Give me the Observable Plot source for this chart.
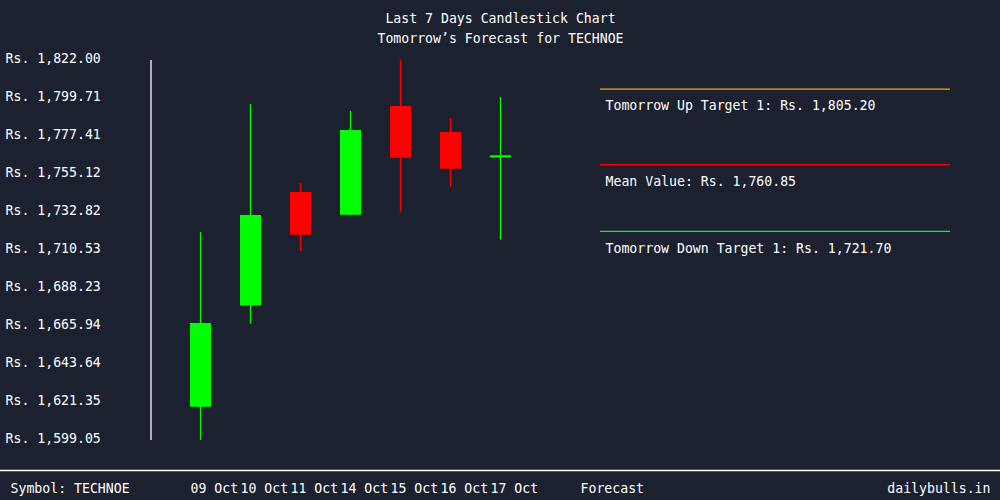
<!DOCTYPE html>
<html>
<head>
<meta charset="utf-8">
<script src="https://cdn.jsdelivr.net/npm/d3@7"></script>
<script src="https://cdn.jsdelivr.net/npm/@observablehq/plot@0.6"></script>
<style>
  html, body { margin: 0; padding: 0; background: #1c2130; }
</style>
</head>
<body>
<div id="chart"></div>
<script>
// ---- data ----
const dates  = ["09 Oct", "10 Oct", "11 Oct", "14 Oct", "15 Oct", "16 Oct", "17 Oct"];
const opens  = [1618.6, 1677.9, 1744.6, 1731.2, 1795.0, 1779.8, 1764.8];
const highs  = [1721.1, 1796.2, 1749.8, 1792.1, 1822.0, 1788.0, 1800.3];
const lows   = [1599.05, 1667.3, 1709.9, 1731.2, 1733.0, 1747.7, 1716.6];
const closes = [1667.7, 1731.1, 1719.5, 1780.9, 1764.7, 1758.2, 1766.1];

const targetLabels = ["Tomorrow Up Target 1", "Mean Value", "Tomorrow Down Target 1"];
const targetValues = [1805.20, 1760.85, 1721.70];
const targetColors = ["#ffa500", "#ff0000", "#00ff00"];

const yTickValues = [1599.05, 1621.35, 1643.64, 1665.94, 1688.23, 1710.53, 1732.82, 1755.12, 1777.41, 1799.71, 1822.00];
const yTickLabels = ["Rs. 1,599.05", "Rs. 1,621.35", "Rs. 1,643.64", "Rs. 1,665.94", "Rs. 1,688.23", "Rs. 1,710.53", "Rs. 1,732.82", "Rs. 1,755.12", "Rs. 1,777.41", "Rs. 1,799.71", "Rs. 1,822.00"];

const titleText = "Last 7 Days Candlestick Chart";
const subtitleText = "Tomorrow’s Forecast for TECHNOE";
const symbolText = "Symbol: TECHNOE";
const forecastText = "Forecast";
const siteText = "dailybulls.in";

// ---- tables ----
const GREEN = "#00ff00", RED = "#ff0000";
const candles = dates.map((d, i) => ({
  i, date: d, open: opens[i], high: highs[i], low: lows[i], close: closes[i],
  color: closes[i] >= opens[i] ? GREEN : RED
}));
const targets = targetLabels.map((l, i) => ({
  label: l, value: targetValues[i], color: targetColors[i]
}));
const yTicks = yTickValues.map((v, i) => ({ v, label: yTickLabels[i] }));
const fmt = d3.format(",.2f");

const FONT = "DejaVu Sans Mono";
const FS = 13.2;
const common = { fill: "white", fontFamily: FONT, fontSize: FS, lineAnchor: "middle" };

const chart = Plot.plot({
  width: 1000,
  height: 500,
  marginTop: 60,
  marginBottom: 60,
  marginLeft: 0,
  marginRight: 0,
  style: { background: "#1c2130", color: "white", fontFamily: FONT, fontSize: "13px" },
  x: { type: "linear", domain: [-1, 16], range: [150, 1000], axis: null },
  y: { domain: [1599.05, 1822], axis: null },
  color: { type: "identity" },
  marks: [
    // title + subtitle
    Plot.text([titleText], { ...common, text: d => d, frameAnchor: "top", dy: -42 }),
    Plot.text([subtitleText], { ...common, text: d => d, frameAnchor: "top", dy: -22 }),
    // y axis line
    Plot.ruleX([-1], { x: d => d, y1: 1599.05, y2: 1822, stroke: "white", strokeWidth: 1.3, dx: 0.5 }),
    // y tick labels
    Plot.text(yTicks, { ...common, y: "v", text: "label", frameAnchor: "left", textAnchor: "start", dx: 5, dy: -2 }),
    // wicks
    Plot.ruleX(candles, { x: "i", y1: "low", y2: "high", stroke: "color", strokeWidth: 1.3 }),
    // bodies
    Plot.ruleX(candles, { x: "i", y1: "open", y2: "close", stroke: "color", strokeWidth: 21 }),
    // forecast target lines
    Plot.ruleY(targets, { y: "value", x1: 8, x2: 15, stroke: "color", strokeWidth: 1.3 }),
    Plot.text(targets, { ...common, x: 8, y: "value", text: d => `${d.label}: Rs. ${fmt(d.value)}`, textAnchor: "start", dx: 5, dy: 17 }),
    // bottom separator
    Plot.ruleY([1599.05], { y: d => d, stroke: "white", strokeWidth: 1.3, dy: 30 }),
    // bottom texts
    Plot.text([symbolText], { ...common, text: d => d, frameAnchor: "bottom-left", textAnchor: "start", dx: 10, dy: 48 }),
    Plot.text(candles, { ...common, x: "i", text: "date", frameAnchor: "bottom", textAnchor: "start", dx: -10, dy: 48 }),
    Plot.text([{ i: 7, t: forecastText }], { ...common, x: "i", text: "t", frameAnchor: "bottom", textAnchor: "start", dx: 30, dy: 48 }),
    Plot.text([siteText], { ...common, text: d => d, frameAnchor: "bottom-right", textAnchor: "end", dx: -10, dy: 48 })
  ]
});
document.getElementById("chart").appendChild(chart);
</script>
</body>
</html>
